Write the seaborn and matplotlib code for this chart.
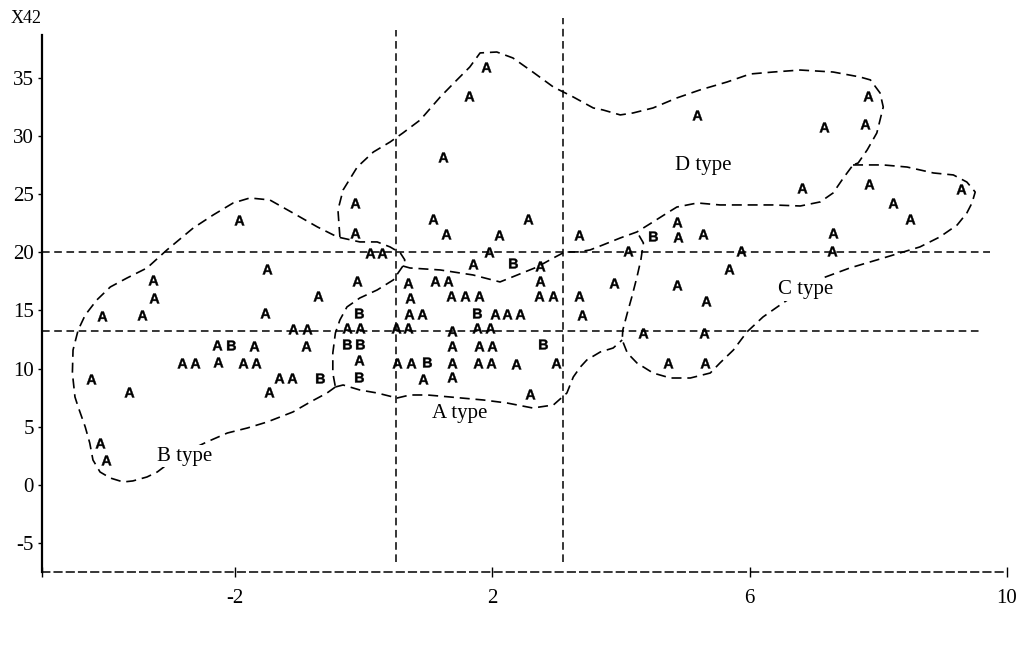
import matplotlib
matplotlib.use("Agg")
import matplotlib.pyplot as plt
import seaborn as sns
import pandas as pd

# точки: A и B
a_x = [-1.94, -1.50, -3.28, -3.26, -4.07, -3.45, -1.53, -0.71, -1.10, -0.88,
       -2.28, -1.70, -0.90, -2.82, -2.62, -2.26, -1.88, -1.67, -4.24, -3.65,
       -1.47, -1.32, -1.11, -4.10, -4.01, 1.90, 1.64, 1.23, -0.13, 1.08,
       2.56, -0.13, 1.28, 2.11, 3.35, 0.10, 0.29, 1.95, 4.11, 1.70,
       2.74, -0.10, 0.69, 1.11, 1.31, 2.74, 3.89, 0.72, 1.36, 1.58,
       1.79, 2.73, 2.95, 3.35, 0.71, 0.91, 2.04, 2.23, 2.43, 3.40,
       -0.26, -0.06, 0.50, 0.69, 1.37, 1.76, 1.97, 1.37, 1.79, 2.00,
       -0.07, 0.52, 0.74, 1.37, 1.78, 1.98, 2.37, 2.99, 0.92, 1.37,
       2.59, 7.84, 5.18, 7.16, 7.80, 6.82, 7.86, 9.29, 8.23, 8.50,
       4.87, 4.89, 5.28, 7.30, 5.87, 7.28, 5.68, 4.87, 5.33, 4.35,
       5.29, 4.73, 5.31]
a_y = [22.8, 18.6, 17.6, 16.1, 14.5, 14.6, 14.8, 16.2, 13.4, 13.4,
       12.0, 11.9, 11.9, 10.5, 10.5, 10.6, 10.5, 10.5, 9.1, 8.0,
       8.0, 9.2, 9.2, 3.6, 2.1, 35.9, 33.4, 28.2, 24.2, 22.9,
       22.9, 21.7, 21.6, 21.5, 21.5, 19.9, 19.9, 20.0, 20.1, 19.0,
       18.8, 17.5, 17.4, 17.5, 17.5, 17.5, 17.4, 16.1, 16.2, 16.2,
       16.2, 16.2, 16.2, 16.2, 14.7, 14.7, 14.7, 14.7, 14.7, 14.6,
       13.5, 13.5, 13.5, 13.5, 13.2, 13.5, 13.5, 11.9, 11.9, 11.9,
       10.7, 10.5, 10.5, 10.5, 10.5, 10.5, 10.4, 10.5, 9.1, 9.3,
       7.8, 33.4, 31.8, 30.8, 31.0, 25.5, 25.9, 25.4, 24.2, 22.9,
       22.6, 21.3, 21.6, 21.7, 20.1, 20.1, 18.6, 17.2, 15.8, 13.1,
       13.1, 10.5, 10.5]
b_x = [-2.06, -0.68, 2.32, -0.08, 1.76, -0.26, -0.06, 2.79, 0.99, -0.07, 4.50]
b_y = [12.0, 9.2, 19.1, 14.8, 14.8, 12.1, 12.1, 12.1, 10.6, 9.3, 21.4]

# контуры областей (пунктирные кривые)
b_outer_x = [-0.44, -0.57, -0.83, -1.10, -1.50, -1.81, -2.12, -2.44, -2.86, -3.21,
             -3.37, -3.59, -3.74, -3.94, -4.10, -4.21, -4.26, -4.33, -4.44, -4.49,
             -4.53, -4.52, -4.44, -4.33, -4.15, -3.94, -3.68, -3.37, -3.06, -2.65,
             -2.34, -2.03, -1.77, -1.46, -1.10, -0.72, -0.41, -0.06, 0.21, 0.41,
             0.57, 0.64, 0.61]
b_outer_y = [8.42, 7.90, 7.13, 6.27, 5.41, 4.89, 4.46, 3.69, 2.57, 1.11,
             0.68, 0.34, 0.25, 0.59, 1.11, 2.14, 3.60, 4.98, 6.70, 7.56,
             9.62, 11.60, 13.32, 14.61, 15.90, 17.02, 17.79, 18.65, 20.20, 22.09,
             23.21, 24.24, 24.67, 24.50, 23.38, 22.18, 21.32, 20.89, 20.89, 20.46,
             19.94, 19.34, 18.82]
ab_x = [0.61, 0.46, 0.21, -0.06, -0.26, -0.37, -0.44, -0.48, -0.48, -0.44]
ab_y = [18.82, 17.62, 16.76, 16.07, 15.30, 14.18, 13.06, 11.34, 9.62, 8.42]
a_bottom_x = [-0.44, -0.32, -0.06, 0.21, 0.52, 0.72, 0.99, 1.34, 1.86, 2.23,
              2.63, 2.95, 3.16, 3.26, 3.37, 3.47, 3.68, 3.88, 4.02]
a_bottom_y = [8.42, 8.59, 8.16, 7.90, 7.47, 7.73, 7.73, 7.56, 7.30, 7.04,
              6.61, 6.87, 7.90, 9.28, 10.14, 10.74, 11.43, 11.77, 12.46]
top_chain_x = [0.61, 0.72, 1.19, 1.70, 2.12, 2.39, 2.70, 2.95, 3.13, 3.33,
               3.52, 3.72, 3.99, 4.25, 4.50, 4.72, 4.87, 5.19, 5.54, 5.96,
               6.37, 6.79, 7.10, 7.30, 7.46, 7.61]
top_chain_y = [18.82, 18.65, 18.48, 18.05, 17.45, 18.05, 18.74, 19.51, 20.03, 20.03,
               20.20, 20.63, 21.23, 21.75, 22.61, 23.38, 23.89, 24.24, 24.07, 24.07,
               24.07, 23.98, 24.33, 25.10, 26.39, 27.51]
d_outer_x = [-0.37, -0.40, -0.32, -0.10, 0.15, 0.41, 0.61, 0.88, 1.19, 1.45,
             1.65, 1.81, 2.07, 2.32, 2.63, 2.95, 3.26, 3.57, 3.72, 3.99,
             4.19, 4.50, 4.87, 5.23, 5.65, 6.01, 6.37, 6.79, 7.30, 7.72,
             7.88, 8.03, 8.08, 7.98, 7.83, 7.69, 7.61]
d_outer_y = [21.32, 23.64, 25.36, 27.33, 28.62, 29.48, 30.26, 31.38, 33.35, 34.82,
             35.93, 37.14, 37.22, 36.71, 35.50, 34.21, 33.35, 32.41, 32.24, 31.81,
             31.98, 32.41, 33.27, 33.96, 34.64, 35.33, 35.50, 35.67, 35.50, 35.07,
             34.82, 33.70, 32.49, 30.26, 28.80, 27.68, 27.51]
c_outer_x = [7.61, 7.72, 8.08, 8.45, 8.86, 9.17, 9.38, 9.51, 9.46, 9.38,
             9.23, 8.96, 8.65, 8.34, 7.98, 7.56, 7.14, 6.83, 6.52, 6.21,
             5.96, 5.75, 5.54, 5.39, 5.08, 4.77, 4.50, 4.25, 4.10, 4.02,
             4.03, 4.10, 4.17, 4.25, 4.31, 4.35, 4.25]
c_outer_y = [27.51, 27.51, 27.51, 27.33, 26.82, 26.65, 26.04, 25.18, 24.24, 23.38,
             22.35, 21.32, 20.46, 19.94, 19.34, 18.65, 17.79, 16.76, 15.64, 14.44,
             13.15, 11.60, 10.48, 9.62, 9.19, 9.19, 9.62, 10.48, 11.34, 12.46,
             13.32, 14.78, 16.16, 17.88, 19.34, 20.80, 21.75]

vline_x = [0.5, 3.1]
vline_top = [39.1, 40.15]
hline_y = [13.2, 20.0]
hline_end = [9.62, 9.74]

region_labels = ["A type", "B type", "C type", "D type"]
label_x = [1.50, -2.79, 6.88, 5.28]
label_y = [6.18, 2.48, 16.76, 27.5]

plt.rcParams['axes.unicode_minus'] = False
plt.rcParams['mathtext.fontset'] = 'custom'
plt.rcParams['mathtext.rm'] = 'Liberation Sans:bold'
plt.rcParams['font.family'] = 'Liberation Serif'

fig = plt.figure(figsize=(10.21, 6.55), dpi=100)
ax = fig.add_axes([0.035, 0.1221, 0.9592, 0.8626])

dash = (0, (6, 3.5))
for xs, ys in [(b_outer_x, b_outer_y), (ab_x, ab_y), (a_bottom_x, a_bottom_y),
               (top_chain_x, top_chain_y), (d_outer_x, d_outer_y), (c_outer_x, c_outer_y)]:
    ax.plot(xs, ys, color='black', lw=1.2, linestyle=dash, zorder=2)

ax.vlines(vline_x, -6.6, vline_top, color='black', lw=1.1, linestyle=(0, (5, 3)), zorder=1)
ax.hlines(hline_y, -5, hline_end, color='black', lw=1.1, linestyle=(0, (5, 3)), zorder=1)

sns.scatterplot(x=a_x, y=a_y, marker=r'$\mathrm{A}$', s=50, color='black',
                edgecolor='black', linewidth=0.3, ax=ax, zorder=3)
sns.scatterplot(x=b_x, y=b_y, marker=r'$\mathrm{B}$', s=50, color='black',
                edgecolor='black', linewidth=0.3, ax=ax, zorder=3)

for t, x, y in zip(region_labels, label_x, label_y):
    ax.text(x, y, t, fontsize=15, ha='center', va='center', zorder=4,
            bbox=dict(facecolor='white', edgecolor='none', pad=1))

ax.set_xlim(-5.1, 10.13)
ax.set_ylim(-7.75, 40.83)
ax.spines['top'].set_visible(False)
ax.spines['right'].set_visible(False)
ax.spines['left'].set_position(('data', -5))
ax.spines['left'].set_bounds(-7.5, 38.7)
ax.spines['left'].set_linewidth(1.6)
ax.spines['bottom'].set_position(('data', -7.5))
ax.spines['bottom'].set_bounds(-5, 10)
ax.spines['bottom'].set_linestyle((0, (5, 3)))
ax.spines['bottom'].set_linewidth(1.1)

ax.set_xticks([-5, -2, 2, 6, 10])
ax.set_xticklabels(['', '-2', '2', '6', '10'])
ax.set_yticks(range(-5, 36, 5))
ax.tick_params(axis='x', direction='inout', length=7, width=1, pad=9, labelsize=15)
ax.tick_params(axis='y', direction='out', length=3, width=1, pad=3, labelsize=15)

fig.text(0.026, 0.972, 'X42', fontsize=13, ha='center', va='center')

fig.savefig('out.png', dpi=100)
